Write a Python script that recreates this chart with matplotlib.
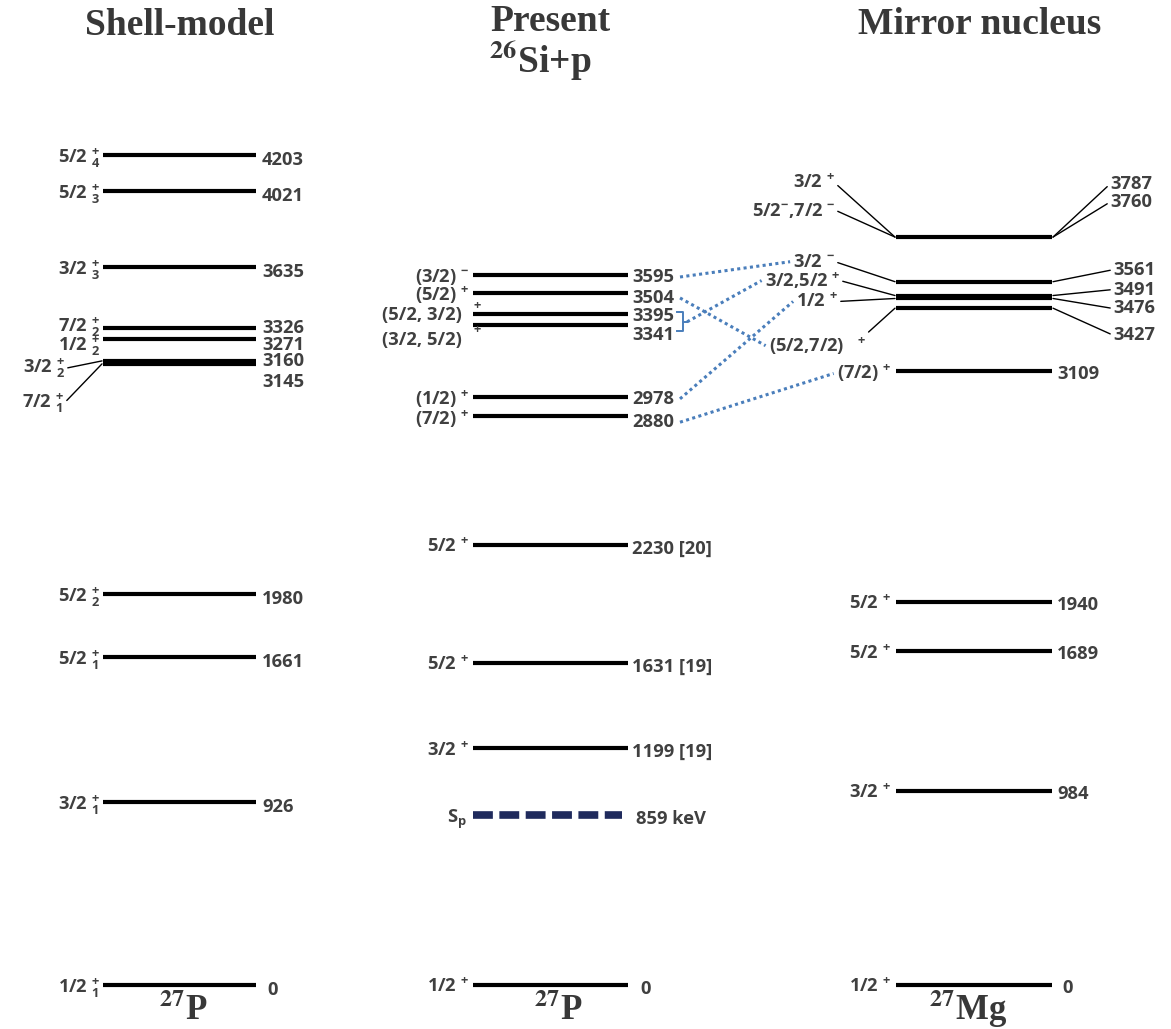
import matplotlib.pyplot as plt
from matplotlib.text import Text

plt.rcParams['font.family'] = ['Open Sans', 'DejaVu Sans']
plt.rcParams['mathtext.fontset'] = 'custom'
plt.rcParams['mathtext.rm'] = 'Open Sans:bold'
plt.rcParams['mathtext.it'] = 'Open Sans:bold'
plt.rcParams['mathtext.bf'] = 'Open Sans:bold'

# ---- data: level energies (keV) and spins ----
# shell-model 27P
sm_energy = [0, 926, 1661, 1980, 3145, 3160, 3271, 3326, 3635, 4021, 4203]
sm_spin = ['1/2', '3/2', '5/2', '5/2', '7/2', '3/2', '1/2', '7/2', '3/2', '5/2', '5/2']
sm_index = [1, 1, 1, 2, 1, 2, 2, 2, 3, 3, 4]

# present work, 26Si+p
pr_energy = [0, 1199, 1631, 2230, 2880, 2978, 3341, 3395, 3504, 3595]
pr_spin = ['1/2', '3/2', '5/2', '5/2', '(7/2)', '(1/2)', '(3/2, 5/2)', '(5/2, 3/2)', '(5/2)', '(3/2)']
pr_parity = ['+', '+', '+', '+', '+', '+', '+', '+', '+', '-']
pr_ref = ['', '[19]', '[19]', '[20]', '', '', '', '', '', '']
sp_energy = 859

# mirror nucleus 27Mg
mg_energy = [0, 984, 1689, 1940, 3109, 3427, 3476, 3491, 3561, 3760, 3787]
mg_spin = ['1/2 $^{+}$', '3/2 $^{+}$', '5/2 $^{+}$', '5/2 $^{+}$', '(7/2) $^{+}$',
           '(5/2,7/2)   $^{+}$', '1/2 $^{+}$', '3/2,5/2 $^{+}$', '3/2 $^{-}$',
           '5/2$^{-}$,7/2 $^{-}$', '3/2 $^{+}$']

# present levels -> mirror levels
links = [((3595,), 3561), ((3504,), 3427), ((3395, 3341), 3491),
         ((2978,), 3476), ((2880,), 3109)]

# ---- layout ----
TXT = '#404040'
LINK = '#4a7ebb'
FS = 13.2
W, H = 1171, 1029
scale = 0.1975          # px per keV
y0 = 985                # pixel row of 0 keV

fig = plt.figure(figsize=(W / 100, H / 100), dpi=100)
ax = fig.add_axes([0, 0, 1, 1])
ax.set_xlim(0, W)
ax.set_ylim(-(H - y0) / scale, y0 / scale)
ax.axis('off')


def lab(x, E, s, dx=0, dy=0, ha='left', conn=False, relpos=(1, 0.5), **kw):
    ap = None
    if conn:
        ap = dict(arrowstyle='-', lw=1.0, color='black', shrinkA=0, shrinkB=0,
                  relpos=relpos)
    return ax.annotate(s, xy=(x, E), xytext=(dx, dy), textcoords='offset pixels',
                       ha=ha, va='center_baseline', fontsize=kw.pop('size', FS),
                       color=TXT, fontweight='bold', arrowprops=ap, **kw)


# shell model column
sm_x = (103, 256)
sm_spin_off = {3160: (-37, -4), 3145: (-38, -36), 3326: (-2, 4), 3271: (-2, -4)}
sm_conn = (3160, 3145)
sm_en_off = {3145: -16, 3160: 2, 3271: -4, 3326: 2}
for E, s, i in zip(sm_energy, sm_spin, sm_index):
    ax.hlines(E, *sm_x, color='black', lw=3)
    dx, dy = sm_spin_off.get(E, (-2, 0))
    lab(sm_x[0] - 1, E, f'{s} $_{{{i}}}^{{+}}$', dx, dy, ha='right',
        conn=E in sm_conn)
    lab(sm_x[1] + 6, E, str(E), 5 if E == 0 else 0, sm_en_off.get(E, -3))

# present column
pr_x = (473, 628)
pr_split = {3395: (1, 6), 3341: (-13, -7)}
pr_en_off = {3504: -3, 3341: -8, 2880: -4, 3395: 0, 3595: 0, 2978: 0}
pr_labels = {}
for E, s, p, r in zip(pr_energy, pr_spin, pr_parity, pr_ref):
    ax.hlines(E, *pr_x, color='black', lw=3)
    sign = '+' if p == '+' else '-'
    if E in pr_split:
        dy, pdy = pr_split[E]
        lab(pr_x[0] - 11, E, s, 0, dy, ha='right')
        lab(pr_x[0] + 4, E, f'$^{{{sign}}}$', 0, pdy, ha='center')
    else:
        lab(pr_x[0] - 4, E, f'{s} $^{{{sign}}}$', 0, 0, ha='right')
    txt = f'{E} {r}' if r else str(E)
    pr_labels[E] = lab(pr_x[1] + 4, E, txt, 8 if E == 0 else 0, pr_en_off.get(E, -2))

ax.hlines(sp_energy, pr_x[0], pr_x[1] - 6, color='#1f2a5c', lw=5.5,
          linestyles=(0, (2.6, 0.85)))
lab(pr_x[0] - 6, sp_energy, 'S$_{\\mathrm{p}}$', 0, 0, ha='right')
lab(pr_x[1] + 8, sp_energy, f'{sp_energy} keV', 0, -2)

# mirror column
mg_x = (896, 1052)
mg_drawn = {3760: 3787}   # unresolved pair drawn as one line
mg_left_off = {3787: (-60, 56), 3760: (-60, 29), 3561: (-60, 22),
               3491: (-55, 17), 3476: (-57, -1), 3427: (-29, -35)}
mg_right_off = {3787: (57, 55), 3760: (57, 37), 3561: (60, 14),
                3491: (60, 8), 3476: (60, -8), 3427: (60, -25)}
mg_labels = {}
for E, s in zip(mg_energy, mg_spin):
    Ed = mg_drawn.get(E, E)
    if E not in mg_drawn:
        ax.hlines(E, *mg_x, color='black', lw=3)
    if E in mg_left_off:
        dx, dy = mg_left_off[E]
        rp = (0.97, 0.9) if E == 3427 else (1, 0.5)
        mg_labels[E] = lab(mg_x[0] - 1, Ed, s, dx, dy, ha='right', conn=True, relpos=rp)
    else:
        mg_labels[E] = lab(mg_x[0] - 5, E, s, 0, 0, ha='right')
    if E in mg_right_off:
        dx, dy = mg_right_off[E]
        lab(mg_x[1] + 1, Ed, str(E), dx, dy, conn=True, relpos=(0, 0.5))
    else:
        lab(mg_x[1] + 5, E, str(E), 5 if E == 0 else 0, -1)

# titles and nucleus names
serif = dict(family='Liberation Serif', fontweight='bold', color='#383838',
             math_fontfamily='stix')
fig.text(180 / W, 1 - 35 / H, 'Shell-model', ha='center', va='baseline', fontsize=27, **serif)
fig.text(490 / W, 1 - 31 / H, 'Present', ha='left', va='baseline', fontsize=27, **serif)
fig.text(489 / W, 1 - 73 / H, r'$^{\mathbf{26}}$Si+p', ha='left', va='baseline',
         fontsize=27, **serif)
fig.text(980 / W, 1 - 34 / H, 'Mirror nucleus', ha='center', va='baseline', fontsize=27, **serif)
for xc, nm in [(183, 'P'), (558, 'P'), (968, 'Mg')]:
    fig.text(xc / W, 1 - 1020 / H, r'$^{\mathbf{27}}$' + nm, ha='center',
             va='baseline', fontsize=25, **serif)

# dotted correspondences between present levels and mirror levels
fig.canvas.draw()
rend = fig.canvas.get_renderer()
inv = ax.transData.inverted()


def box(t):
    return Text.get_window_extent(t, rend)


for src, dst in links:
    bbs = [box(pr_labels[E]) for E in src]
    if len(bbs) == 1:
        b = bbs[0]
        sx, sy = b.x1 + 6, (b.y0 + b.y1) / 2
    else:
        bx = max(b.x1 for b in bbs) + 9
        ya = (bbs[0].y0 + bbs[0].y1) / 2 + 4
        yb = (bbs[1].y0 + bbs[1].y1) / 2 + 4
        ym = (ya + yb) / 2
        pts = inv.transform([(bx - 6, ya), (bx, ya), (bx, yb), (bx - 6, yb)])
        ax.plot(pts[:, 0], pts[:, 1], color=LINK, lw=1.4)
        tk = inv.transform([(bx, ym), (bx + 4, ym)])
        ax.plot(tk[:, 0], tk[:, 1], color=LINK, lw=1.4)
        sx, sy = bx + 4, ym
    d = box(mg_labels[dst])
    ex, ey = d.x0 - 3, (d.y0 + d.y1) / 2
    p = inv.transform([(sx, sy), (ex, ey)])
    ax.plot(p[:, 0], p[:, 1], color=LINK, lw=2.2, linestyle=(0, (1, 1.1)),
            dash_capstyle='butt')

fig.savefig('out.png', dpi=100)
